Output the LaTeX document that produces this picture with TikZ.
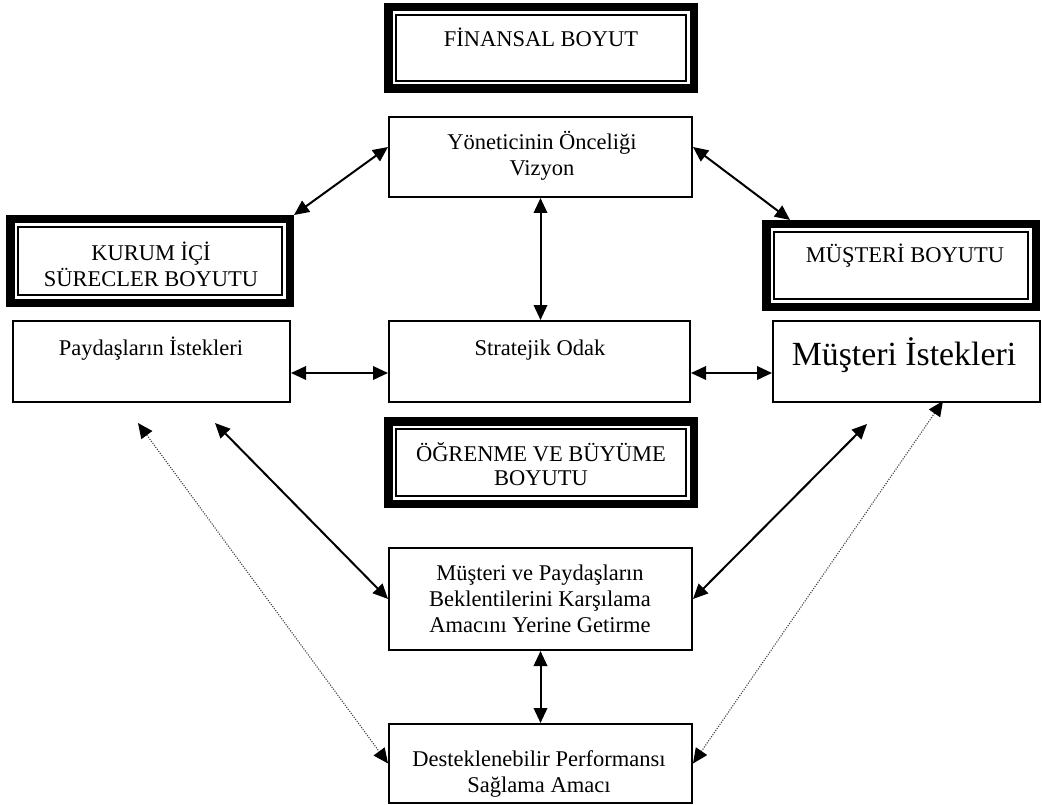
\documentclass[tikz,border=0pt]{standalone}
\usepackage{fontspec}
\setmainfont{Liberation Serif}
\usetikzlibrary{arrows.meta}
\begin{document}
\begin{tikzpicture}[x=1pt,y=-1pt,
  plainbox/.style={draw, line width=2pt, inner sep=0pt},
  dblbox/.style={draw, line width=8.5pt, inner sep=0pt,
    path picture={\draw[line width=1.9pt]
      ([shift={(8pt,-8pt)}]path picture bounding box.north west) rectangle
      ([shift={(-8pt,8pt)}]path picture bounding box.south east);}},
  lbl/.style={inner sep=0pt, anchor=base, align=center,
    font=\fontsize{22.5pt}{26pt}\selectfont},
  tip/.tip={Triangle[length=15pt,width=13.5pt,color=black]},
  arr/.style={tip-tip, line width=2pt},
  dotarr/.style={tip-tip, line width=1.1pt, draw=black!75, dash pattern=on 1.1pt off 1.4pt}
]
\useasboundingbox (0,0) rectangle (1042,805);

% perspective frames (double borders)
\node[dblbox, minimum width=305.5pt, minimum height=81.5pt] (fin) at (541,48) {};
\node[dblbox, minimum width=279.5pt, minimum height=83.5pt] (kur) at (150,261) {};
\node[dblbox, minimum width=269.5pt, minimum height=82.5pt] (mus) at (901,265.5) {};
\node[dblbox, minimum width=305.5pt, minimum height=82.5pt] (ogr) at (541,462.5) {};

% plain boxes
\node[plainbox, minimum width=303pt, minimum height=80pt]  (yon) at (540.5,157) {};
\node[plainbox, minimum width=277pt, minimum height=81pt]  (pay) at (151.5,361.5) {};
\node[plainbox, minimum width=301pt, minimum height=81pt]  (str) at (539.5,361.5) {};
\node[plainbox, minimum width=267pt, minimum height=81pt]  (mis) at (906.5,361.5) {};
\node[plainbox, minimum width=303pt, minimum height=102pt] (mpb) at (540.5,599) {};
\node[plainbox, minimum width=303pt, minimum height=79pt]  (des) at (540.5,763.5) {};

% texts (base anchor sits on the last line)
\node[lbl] (finT) at (541,47) {FİNANSAL BOYUT};
\node[lbl] (yonT) at (542,176) {Yöneticinin Önceliği\\Vizyon};
\node[lbl] (kurT) at (151,287) {KURUM İÇİ\\SÜRECLER BOYUTU};
\node[lbl] (musT) at (905,263) {MÜŞTERİ BOYUTU};
\node[lbl] (payT) at (151,355) {Paydaşların İstekleri};
\node[lbl] (strT) at (540,355) {Stratejik Odak};
\node[lbl, font=\fontsize{33.8pt}{38pt}\selectfont] (misT) at (904,365) {Müşteri İstekleri};
\node[lbl, font=\fontsize{22.5pt}{24pt}\selectfont] (ogrT) at (541,485) {ÖĞRENME VE BÜYÜME\\BOYUTU};
\node[lbl] (mpbT) at (540,632) {Müşteri ve Paydaşların\\Beklentilerini Karşılama\\Amacını Yerine Getirme};
\node[lbl] (desT) at (539,792) {Desteklenebilir Performansı\\Sağlama Amacı};

% free ends of the diagonal connectors
\coordinate (lA) at (215,423);
\coordinate (rA) at (867,424);
\coordinate (lD) at (138,423);
\coordinate (rD) at (943,401);

% connectors
\draw[arr] ([yshift=10pt]yon.west) -- (kur.north east);
\draw[arr] ([yshift=10pt]yon.east) -- ([xshift=28pt]mus.north west);
\draw[arr] (yon.south) -- (yon.south |- str.north);
\draw[arr] ([yshift=-11.5pt]pay.east) -- ([yshift=-11.5pt]str.west);
\draw[arr] ([yshift=-11.5pt]str.east) -- ([yshift=-11.5pt]mis.west);
\draw[arr] (lA) -- (mpb.west);
\draw[arr] (rA) -- (mpb.east);
\draw[dotarr] (lD) -- (des.west);
\draw[dotarr] (rD) -- (des.east);
\draw[arr] (mpb.south) -- (mpb.south |- des.north);
\end{tikzpicture}
\end{document}
